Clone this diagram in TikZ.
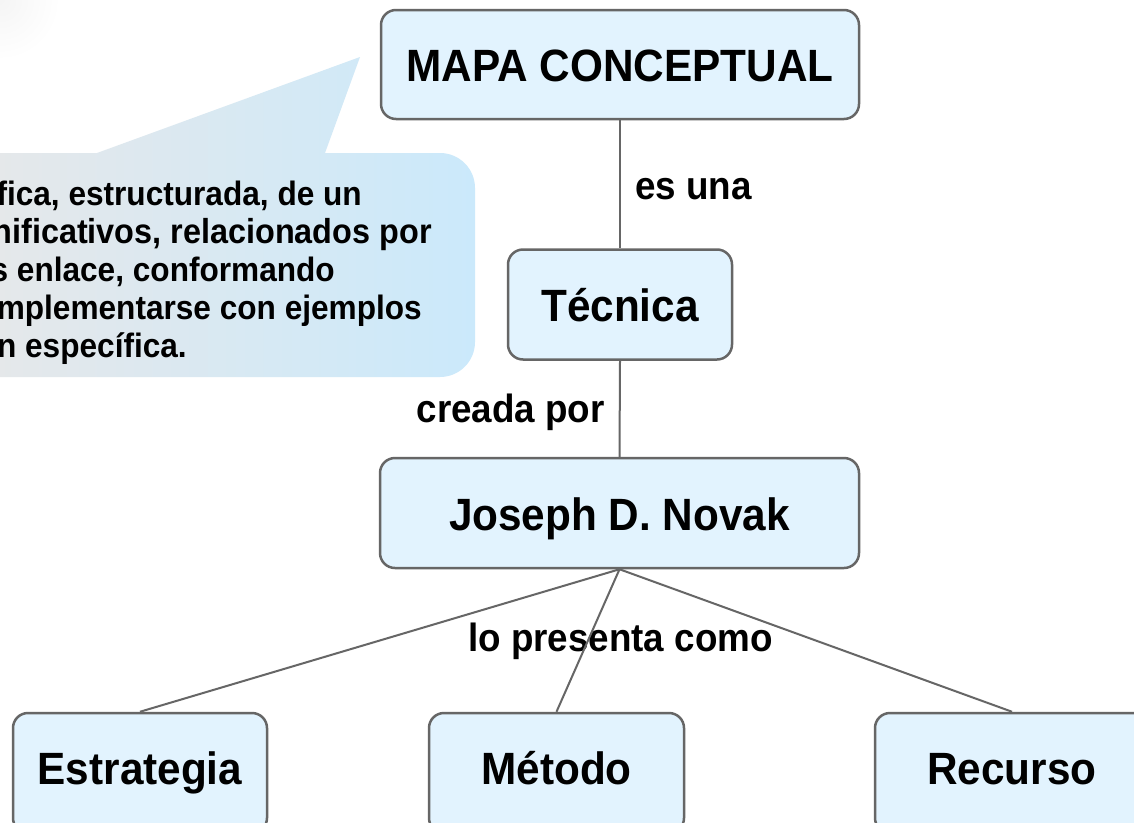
\documentclass[tikz,border=0pt]{standalone}
\usepackage{fontspec}
\setmainfont{Liberation Sans}
\definecolor{boxfill}{HTML}{E2F3FE}
\definecolor{edgegray}{HTML}{666666}
\definecolor{calloutgray}{HTML}{E8E8E8}
\definecolor{calloutblue}{HTML}{CBE9FB}
\newcommand{\vstretch}[1]{\scalebox{1}[1.07]{#1}}
\tikzset{
  concept/.style={draw=edgegray, line width=2.5pt, fill=boxfill, rounded corners=15pt,
    inner sep=0pt, text height=36pt, text depth=2pt,
    font=\fontsize{42.3}{50}\selectfont\bfseries},
  lowconcept/.style={concept, text depth=14pt, minimum height=120pt},
  linklabel/.style={inner sep=0pt, font=\fontsize{36.8}{44}\selectfont\bfseries},
  calltext/.style={inner sep=0pt, anchor=base east, font=\fontsize{31.6}{38}\selectfont\bfseries},
  connector/.style={draw=edgegray, line width=2pt},
}
\begin{document}
\begin{tikzpicture}[x=1pt,y=-1pt]
\useasboundingbox (0,0) rectangle (1134,822);
\clip (0,0) rectangle (1134,822);
\fill[white] (0,0) rectangle (1134,822);
% faint grey blur top-left
\shade[inner color=black!4, outer color=white] (0,0) circle (60);
% callout
\shade[left color=calloutgray, right color=calloutblue]
  (-60,153) -- (97,153) -- (360,57) -- (325,153) -- (440,153)
  .. controls (459.3,153) and (475,168.7) .. (475,188) -- (475,342)
  .. controls (475,361.3) and (459.3,377) .. (440,377) -- (-60,377) -- cycle;
\node[calltext] (c1) at (362,205) {\vstretch{fica, estructurada, de un}};
\node[calltext] (c2) at (432,243) {\vstretch{\fontsize{32.4}{38}\selectfont nificativos, relacionados por}};
\node[calltext] (c3) at (335,281) {\vstretch{s enlace, conformando}};
\node[calltext] (c4) at (422,319) {\vstretch{mplementarse con ejemplos}};
\node[calltext] (c5) at (187,357) {\vstretch{n específica.}};
% concepts
\node[concept, minimum width=478pt, minimum height=109pt] (mapa) at (620,64.5) {\vstretch{MAPA CONCEPTUAL}};
\node[concept, minimum width=224pt, minimum height=110pt] (tec) at (620,304.5) {\vstretch{Técnica}};
\node[concept, minimum width=479pt, minimum height=110pt] (jos) at (619.5,513) {\vstretch{Joseph D. Novak}};
\node[lowconcept, minimum width=254pt] (est) at (140,773) {\vstretch{Estrategia}};
\node[lowconcept, minimum width=255pt] (met) at (556.5,773) {\vstretch{Método}};
\node[lowconcept, minimum width=274pt] (rec) at (1012,773) {\vstretch{Recurso}};
% link labels
\node[linklabel, anchor=base west] (l1) at (635,199) {\vstretch{es una}};
\node[linklabel, anchor=base east] (l2) at (605,422) {\vstretch{creada por}};
\node[linklabel, anchor=base] (l3) at (620.5,651) {\vstretch{lo presenta como}};
% connectors
\draw[connector] (mapa.south) -- (tec.north);
\draw[connector] (tec.south) -- (jos.north);
\draw[connector] (jos.south) -- (est.north);
\draw[connector] (jos.south) -- (met.north);
\draw[connector] (jos.south) -- (rec.north);
\end{tikzpicture}
\end{document}
